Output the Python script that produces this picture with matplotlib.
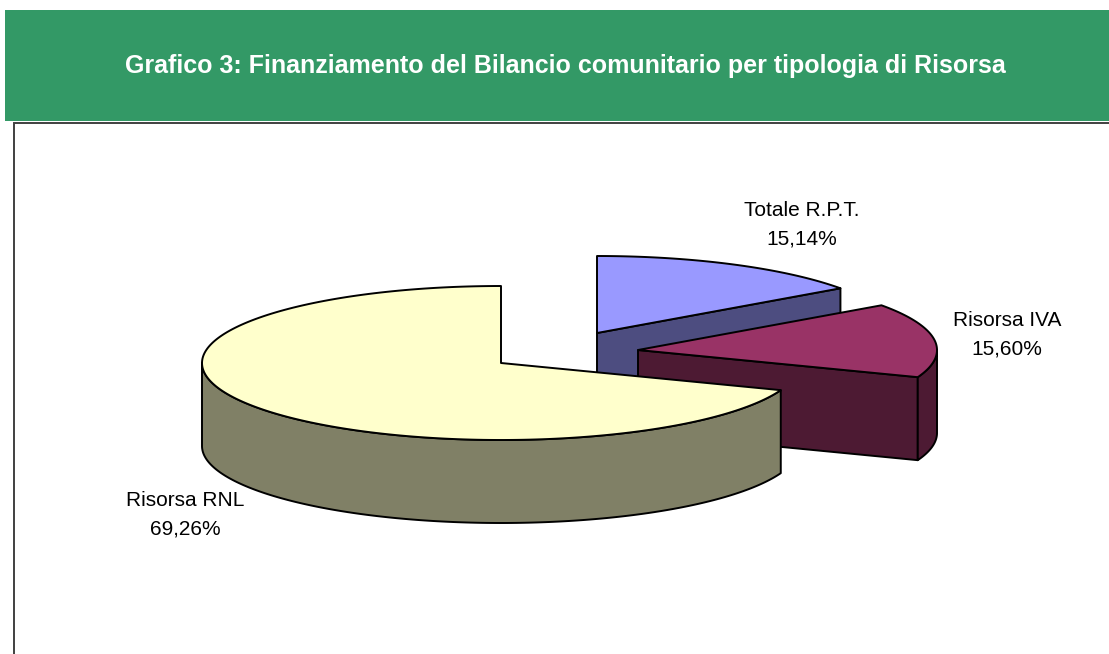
import matplotlib
matplotlib.use('Agg')
import matplotlib.pyplot as plt
import numpy as np

plt.rcParams['font.family'] = ['Liberation Sans', 'DejaVu Sans']

_DPI = 100
_WIDTH = 1109
_HEIGHT = 654

TITLE = 'Grafico 3: Finanziamento del Bilancio comunitario per tipologia di Risorsa'

# data, in the order the slices run counter-clockwise from 12 o'clock
categories = ['Risorsa RNL', 'Risorsa IVA', 'Totale R.P.T.']
shares = [69.26, 15.60, 15.14]

# look of the pie, in image pixels
top_colors = ['#FFFFCC', '#993366', '#9999FF']
side_colors = ['#808066', '#4D1A33', '#4D4D80']
centers = [(501, 363), (638, 350), (597, 333)]
label_pos = [(185, 515), (1007, 335), (802, 225)]
RX = 299
RY = 77
DEPTH = 83
EDGE = 1.4


def Rim(center, start, stop):
  # points on the elliptical rim, angles in degrees, y pointing down
  angles = np.radians(np.linspace(start, stop, 200))
  return np.column_stack((center[0] + RX * np.cos(angles), center[1] - RY * np.sin(angles)))


def Poly(ax, points, color, z):
  ax.fill(points[:, 0], points[:, 1], facecolor=color, edgecolor='black',
          linewidth=EDGE, joinstyle='round', zorder=z)


def Wall(ax, points, color, z):
  # extrude a run of points straight down by the pie's depth
  Poly(ax, np.vstack((points, points[::-1] + np.array([0, DEPTH]))), color, z)


def DrawSlice(ax, center, start, stop, top_color, side_color, z):
  apex = np.array([center])
  # cut face on the clockwise side, seen only when it turns toward the viewer
  if np.cos(np.radians(start)) > 1e-6:
    Wall(ax, np.vstack((apex, Rim(center, start, start)[:1])), side_color, z)
  # outer wall, the part of the rim on the lower half of the ellipse
  low = max(start, 180)
  high = min(stop, 360)
  if high > low:
    Wall(ax, Rim(center, low, high), side_color, z)
  Poly(ax, np.vstack((apex, Rim(center, start, stop))), top_color, z + 1)


fig = plt.figure(figsize=(_WIDTH / _DPI, _HEIGHT / _DPI), dpi=_DPI)
ax = fig.add_axes([0, 0, 1, 1])
ax.set_xlim(0, _WIDTH)
ax.set_ylim(_HEIGHT, 0)
ax.axis('off')

# banner and chart frame
ax.fill_between([5, _WIDTH], 10, 121, color='#339966', linewidth=0, zorder=1)
ax.plot([14, 14, _WIDTH], [_HEIGHT, 123, 123], color='#404040', linewidth=1.4,
        solid_joinstyle='miter', zorder=1)
ax.text(565, 66, TITLE, color='white', fontsize=18, fontweight='bold',
        ha='center', va='center', zorder=2)

# slice angles from the shares
sweeps = np.array(shares) / sum(shares) * 360
stops = 90 + np.cumsum(sweeps)
starts = stops - sweeps

# back to front, so the big slice covers the others
for i in [2, 1, 0]:
  DrawSlice(ax, centers[i], starts[i], stops[i], top_colors[i], side_colors[i], 10 + 3 * (2 - i))

for name, share, pos in zip(categories, shares, label_pos):
  value = ('%.2f' % share).replace('.', ',')
  ax.text(pos[0], pos[1], '%s\n%s%%' % (name, value), fontsize=15, color='black',
          ha='center', va='center', linespacing=1.62, zorder=30)

fig.savefig('out.png', dpi=_DPI)
